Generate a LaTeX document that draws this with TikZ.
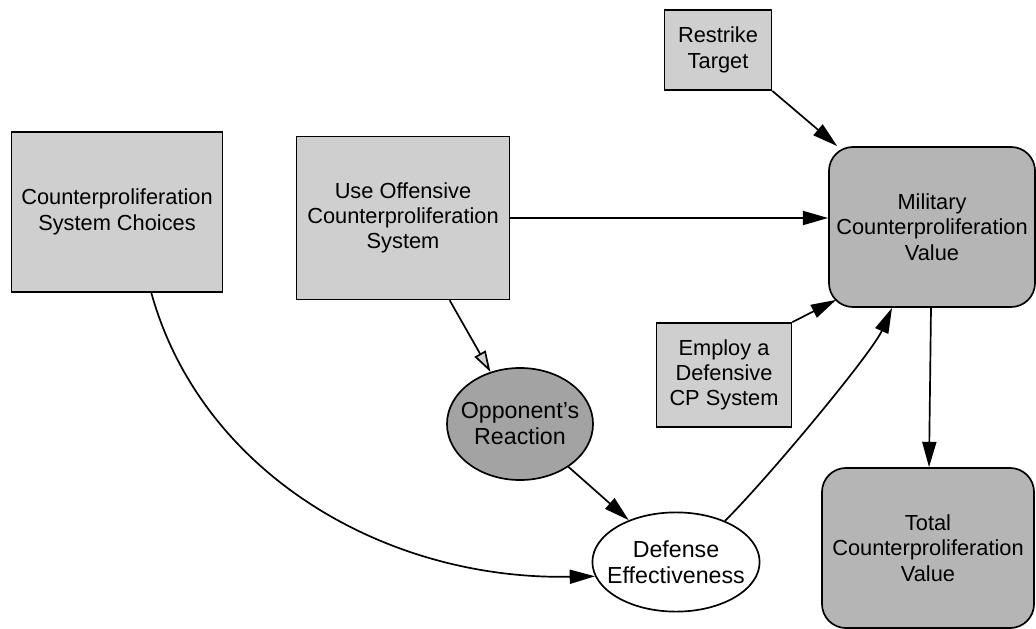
\documentclass[tikz,border=0pt]{standalone}
\usepackage{fontspec}
\setmainfont{Liberation Sans}
\usetikzlibrary{arrows.meta,shapes.geometric}

\begin{document}
\begin{tikzpicture}[x=0.025cm, y=-0.025cm, line width=1.2pt]

\tikzstyle{box1}=[rectangle, draw, fill=gray!38, align=center, inner sep=0pt, font=\fontsize{15.5}{18}\selectfont]
\tikzstyle{box2}=[rectangle, rounded corners=0.6cm, draw, fill=gray!58, align=center, inner sep=0pt, font=\fontsize{15.5}{18}\selectfont]
\tikzstyle{box3}=[ellipse, draw, align=center, inner sep=-7pt, font=\fontsize{16.5}{18.5}\selectfont]
\tikzstyle{arrow}=[-{Triangle[length=18pt,width=10pt]}]
\tikzstyle{hollowarrow}=[-{Triangle[open,fill=gray!35,length=15pt,width=9pt]}]

\useasboundingbox (0,0) rectangle (1036,629);

\node (A) [box1, minimum width=5.28cm, minimum height=4cm] at (117,212) {Counterproliferation\\ System Choices};
\node (B) [box1, minimum width=5.32cm, minimum height=4.07cm] at (403,218) {Use Offensive\\ Counterproliferation\\ System};
\node (C) [box1, minimum width=2.67cm, minimum height=2cm] at (718,50) {Restrike\\ Target};
\node (D) [box2, minimum width=5.15cm, minimum height=4cm] at (932,227) {Military\\ Counterproliferation\\ Value};
\node (E) [box1, minimum width=3.37cm, minimum height=2.6cm] at (724,375) {Employ a\\ Defensive\\ CP System};
\node (F) [box3, fill=gray!72, minimum width=3.65cm, minimum height=2.8cm] at (520,424) {Opponent's\\ Reaction};
\node (G) [box3, fill=white, minimum width=4.18cm, minimum height=2.48cm] at (676,562) {Defense\\ Effectiveness};
\node (H) [box2, minimum width=5.3cm, minimum height=4cm] at (928,548) {Total\\ Counterproliferation\\ Value};

\draw [arrow] (C.south east) -- (D);
\draw [arrow] (B.east) -- (B.east -| D.west);
\draw [arrow] (E.north east) -- ([xshift=0.2cm,yshift=0.2cm]D.south west);
\draw [arrow] (G.40) .. controls +(45,-45) and +(-20,45) .. ([xshift=-1cm]D.south);
\draw [arrow] (D) -- (H);
\draw [arrow] (A.-67) .. controls +(49,177) and +(-214,4) .. (G.190);
\draw [hollowarrow] (B) -- (F);
\draw [arrow] (F) -- (G);

\end{tikzpicture}
\end{document}
